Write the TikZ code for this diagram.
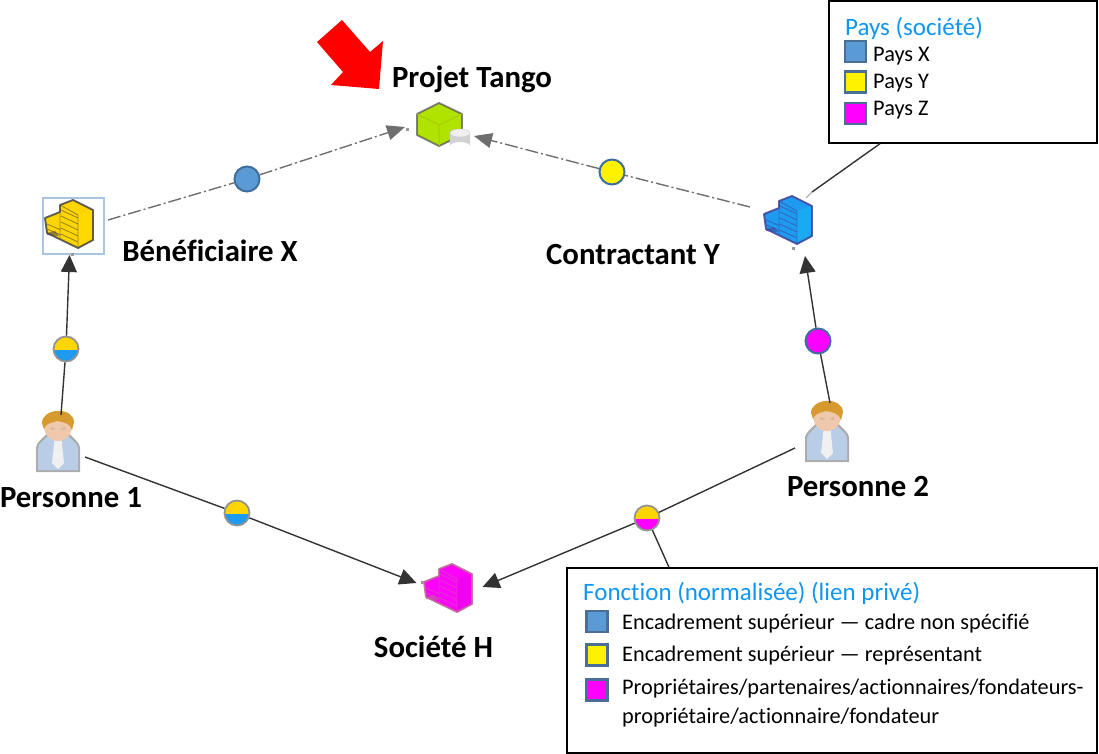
\documentclass[tikz,border=0pt]{standalone}
\usepackage{fontspec}
\setmainfont[Ligatures=NoCommon]{Carlito}
\usetikzlibrary{arrows.meta}
\definecolor{cdark}{HTML}{333333}
\definecolor{cdash}{HTML}{6E6E6E}
\definecolor{ctitle}{HTML}{0F96F0}
\definecolor{cblue}{HTML}{5B9BD5}
\definecolor{cedge}{HTML}{3F6E9E}
\definecolor{cswedge}{HTML}{4A6F96}
\definecolor{cyel}{HTML}{FFF200}
\definecolor{cmag}{HTML}{FF00FF}
\definecolor{chy}{HTML}{FFD500}
\definecolor{chb}{HTML}{1E9BF0}
\definecolor{cbody}{HTML}{B9CDE6}
\definecolor{cskin}{HTML}{F0C8AC}
\definecolor{chair}{HTML}{D69A2E}
\definecolor{csel}{HTML}{A9C4E4}
\tikzset{
  x=1pt,y=-1pt,
  anch/.style={inner sep=0pt,outer sep=0pt,minimum width=#1},
  nlabel/.style={font=\fontsize{30.8}{30.8}\selectfont\bfseries,text=black,inner sep=0pt},
  ltitle/.style={font=\fontsize{25}{25}\selectfont,text=ctitle,anchor=west,inner sep=0pt},
  litem/.style={font=\fontsize{22.3}{22.3}\selectfont,text=black,anchor=west,inner sep=0pt},
  lbox/.style={draw=black,line width=1.4pt,fill=white,inner sep=0pt},
  swatch/.style={draw=cswedge,line width=2.5pt,minimum size=21pt,inner sep=0pt},
  solidlink/.style={draw=cdark,line width=1.4pt},
  solidarrow/.style={solidlink,-{Triangle[length=17pt,width=16pt,fill=cdark]}},
  dashlink/.style={draw=cdash,line width=1.4pt,dash pattern=on 13pt off 3pt on 2pt off 3pt},
  dasharrow/.style={dashlink,-{Triangle[length=18pt,width=15pt,fill=cdash]}},
  plainc/.style={circle,draw=cedge,line width=2pt,fill=#1,minimum size=25pt,inner sep=0pt},
  halfc/.style 2 args={circle,draw=gray!85,line width=1.8pt,minimum size=25pt,inner sep=0pt,
    path picture={
      \fill[#1] (-14,-14) rectangle (14,1);
      \fill[#2] (-14,1) rectangle (14,14);
    }},
}
\newcommand{\bldgicon}[5]{%
\begin{scope}[shift={(#1,#2)}]
  \fill[#3] (-24,-6) -- (-9,-12) -- (-9,-19) -- (4,-24) -- (24,-14) -- (24,16) -- (9,24) -- (-22,9) -- cycle;
  \fill[#5] (9,-9) -- (24,-14) -- (24,16) -- (9,24) -- cycle;
  \draw[#4,line width=.9pt,opacity=.55]
    (-8,-14) -- (9,-6) (-8,-8) -- (9,0) (-8,-2) -- (9,6) (-8,4) -- (9,12) (-8,10) -- (9,18)
    (-22,0) -- (-8,6) (-22,5) -- (-8,11) (-9,-12) -- (-9,14) (9,-9) -- (9,24) (-9,-19) -- (9,-9);
  \fill[#4,opacity=.6] (-22,9) -- (-14,7) -- (-10,12) -- (-22,11) -- cycle;
  \draw[#4,line width=1.9pt,line join=round,opacity=.85] (-24,-6) -- (-9,-12) -- (-9,-19) -- (4,-24) -- (24,-14) -- (24,16) -- (9,24) -- (-22,9) -- cycle;
\end{scope}}
\newcommand{\personicon}[3]{%
\begin{scope}[shift={(#1,#2)}]
  \fill[gray!65] (-22,#3) -- (-22,10) .. controls (-22,2) and (-15,0) .. (-10,-7) -- (10,-7) .. controls (15,0) and (22,2) .. (22,10) -- (22,#3) -- cycle;
  \fill[cbody] (-20,#3-2) -- (-20,10) .. controls (-20,3) and (-13,2) .. (-9,-5) -- (9,-5) .. controls (13,2) and (20,3) .. (20,10) -- (20,#3-2) -- cycle;
  \fill[gray!12] (-3,-4) -- (3,-4) -- (6,24) -- (0,#3-3) -- (-6,24) -- cycle;
  \fill[cskin] (0,-13) ellipse (14 and 15);
  \fill[gray!25!cskin] (-7,-12) -- (-2,-10) -- (-7,-9) -- cycle (7,-12) -- (2,-10) -- (7,-9) -- cycle;
  \fill[chair] (-16,-16) .. controls (-16,-31) and (15,-33) .. (16,-17) -- (14,-9) .. controls (13,-15) and (6,-17) .. (-1,-18) .. controls (-6,-16) and (-11,-17) .. (-14,-10) -- cycle;
\end{scope}}
\begin{document}
\begin{tikzpicture}
\useasboundingbox (0,0) rectangle (1099,754);
% red pointer
\fill[red] (342,20) -- (317,42) -- (343,72) -- (331,85) -- (379,89) -- (383,41) -- (370,52) -- cycle;
% icons
\draw[csel,line width=1.5pt] (43,198) rectangle (104,254);
\bldgicon{69}{224}{chy}{gray!55!black}{chy!90!yellow}
\bldgicon{788}{220}{chb}{blue!40!gray!85!black}{chb!85!cyan}
\bldgicon{448}{588}{cmag}{gray!50!magenta}{cmag!95!black}
% project cube
\fill[lime!78!olive] (439,103) -- (462,114) -- (462,135) -- (439,146) -- (417,135) -- (417,114) -- cycle;
\draw[gray!70!black,line width=1.9pt,line join=round,opacity=.75] (439,103) -- (462,114) -- (462,135) -- (439,146) -- (417,135) -- (417,114) -- cycle;
\draw[lime!60!olive,line width=1pt] (417,114) -- (439,125) -- (462,114) (439,125) -- (439,146);
\fill[gray!35] (450,133) -- (450,146) arc[start angle=180,end angle=360,x radius=10,y radius=4] -- (470,133) -- cycle;
\fill[gray!12,draw=gray!40] (460,133) ellipse (10 and 4);
\personicon{58}{439}{33}
\personicon{827}{429}{33}
\fill[gray!80] (70.5,253) rectangle (73.5,256);
\fill[gray!80] (791.5,247) rectangle (794.5,250);
\fill[gray!80] (406,128) rectangle (409,131);
\fill[gray!80] (421,581) rectangle (424,584);
% anchor nodes
\node[anch=60pt,minimum height=58pt] (benef) at (73.5,226) {};
\node[anch=69pt,minimum height=24pt] (tango) at (439.5,127) {};
\node[anch=56pt,minimum height=50pt] (contr) at (778,231) {};
\node[anch=66pt,minimum height=32pt] (socH) at (449.5,587) {};
\node[anch=46pt,minimum height=60pt] (pers1) at (58,445) {};
\node[anch=50pt,minimum height=60pt] (pers2) at (830,433) {};
% badges
\node[plainc=cblue] (cX) at (247,179) {};
\node[plainc=cyel] (cY) at (612,172) {};
\node[plainc=cmag] (cZ) at (818,341) {};
\node[halfc={chy}{chb}] (h1) at (66,349) {};
\node[halfc={chy}{chb}] (h2) at (237,513) {};
\node[halfc={chy}{cmag}] (h3) at (647,518) {};
% connectors
\draw[dashlink] ([xshift=4.5pt,yshift=6pt]benef.east) -- (cX);
\draw[dasharrow] (cX) -- (tango.west);
\draw[dashlink] ([yshift=24pt]contr.west) -- (cY);
\draw[dasharrow] (cY) -- ([yshift=-9pt]tango.east);
\draw[solidlink] ([xshift=3pt]pers1.north) -- (h1);
\draw[solidarrow] (h1) -- ([xshift=-4pt]benef.south);
\draw[solidlink] (pers2.north) -- (cZ);
\draw[solidarrow] (cZ) -- ([xshift=27pt]contr.south);
\draw[solidlink] ([xshift=4pt,yshift=-12pt]pers1.east) -- (h2);
\draw[solidarrow] (h2) -- ([yshift=4pt]socH.west);
\draw[solidlink] ([xshift=-10pt,yshift=-15pt]pers2.west) -- (h3);
\draw[solidarrow] (h3) -- (socH.east);
% labels
\node[nlabel] (lTango) at (472,79) {Projet Tango};
\node[nlabel] (lBenef) at (210,251) {Bénéficiaire X};
\node[nlabel] (lContr) at (633,255) {Contractant Y};
\node[nlabel] (lP1) at (71,498) {Personne 1};
\node[nlabel] (lP2) at (858,487) {Personne 2};
\node[nlabel] (lH) at (433.5,647) {Société H};
% legend Pays
\node[lbox,minimum width=268pt,minimum height=142pt] (pays) at (963,72) {};
\node[ltitle] (tPays) at (845,28) {Pays (société)};
\node[swatch,fill=cblue] (sX) at (855.5,51.5) {};
\node[swatch,fill=cyel] (sY) at (855.5,82) {};
\node[swatch,fill=cmag] (sZ) at (855.5,113.5) {};
\node[litem] (iX) at (873,56) {Pays X};
\node[litem] (iY) at (873,83) {Pays Y};
\node[litem] (iZ) at (873,110) {Pays Z};
\draw[solidlink] ([xshift=-83pt]pays.south) -- (812,192) coordinate (payend);
\draw[gray!60,line width=1.2pt] (payend) -- ([yshift=8pt]contr.north east);
% legend Fonction
\node[lbox,minimum width=530pt,minimum height=185pt] (fonc) at (832,660.5) {};
\node[ltitle] (tFonc) at (583,593) {Fonction (normalisée) (lien privé)};
\node[swatch,fill=cblue] (s1) at (597,621.5) {};
\node[swatch,fill=cyel] (s2) at (597,655) {};
\node[swatch,fill=cmag] (s3) at (597,690) {};
\node[litem] (i1) at (622,624) {Encadrement supérieur — cadre non spécifié};
\node[litem] (i2) at (622,656) {Encadrement supérieur — représentant};
\node[litem] (i3) at (622,689) {Propriétaires/partenaires/actionnaires/fondateurs-};
\node[litem] (i4) at (622,718) {propriétaire/actionnaire/fondateur};
\draw[solidlink] (h3) -- ([xshift=-163pt]fonc.north);
\end{tikzpicture}
\end{document}
